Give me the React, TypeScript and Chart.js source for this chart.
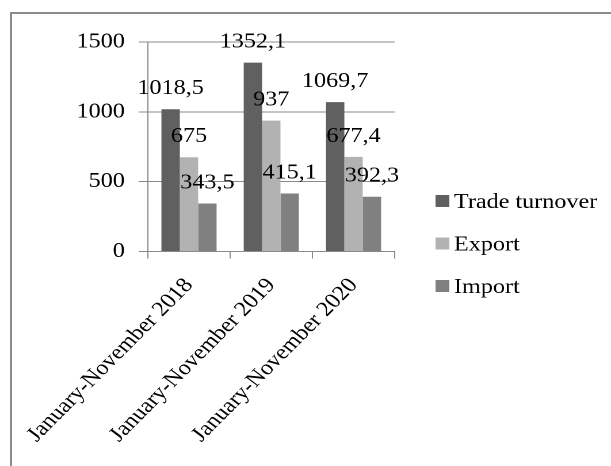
import React, { useEffect, useRef } from "react";
import { Chart, registerables } from "chart.js";

Chart.register(...registerables);

// ---- data ----
const categories = ["January-November 2018", "January-November 2019", "January-November 2020"];
const seriesNames = ["Trade turnover", "Export", "Import"];
const tradeTurnover = [1018.5, 1352.1, 1069.7];
const exportValues = [675, 937, 677.4];
const importValues = [343.5, 415.1, 392.3];
const yTicks = [0, 500, 1000, 1500];

// ---- styling ----
const PAGE_W = 611;
const PAGE_H = 466;
const LOCAL_W = 531;
const STRETCH = PAGE_W / LOCAL_W;
const FONT = '"Liberation Serif", "Times New Roman", serif';
const seriesColors = ["#606060", "#b2b2b2", "#808080"];
const lineColor = "#8a8a8a";

const fmt = (v: number) => String(v).replace(".", ",");

const valueLabels = {
  id: "valueLabels",
  afterDatasetsDraw(chart: any) {
    const ctx = chart.ctx;
    ctx.save();
    ctx.font = `21px ${FONT}`;
    ctx.fillStyle = "#000";
    ctx.textAlign = "center";
    ctx.textBaseline = "alphabetic";
    chart.data.datasets.forEach((ds: any, i: number) => {
      const meta = chart.getDatasetMeta(i);
      meta.data.forEach((bar: any, j: number) => {
        ctx.fillText(fmt(ds.data[j]), bar.x, bar.y - 15);
      });
    });
    ctx.restore();
  },
};

const sideLegend = {
  id: "sideLegend",
  afterDraw(chart: any) {
    const { ctx, chartArea } = chart;
    const boxX = chartArea.right + 35.5;
    const firstY = chartArea.top + 159;
    const gap = 42.5;
    ctx.save();
    ctx.font = `21px ${FONT}`;
    ctx.textAlign = "left";
    ctx.textBaseline = "alphabetic";
    chart.data.datasets.forEach((ds: any, i: number) => {
      const cy = firstY + i * gap;
      ctx.fillStyle = ds.backgroundColor;
      ctx.fillRect(boxX, cy - 6, 12, 12);
      ctx.fillStyle = "#000";
      ctx.fillText(ds.label, boxX + 16, cy + 7);
    });
    ctx.restore();
  },
};

export default function App() {
  const canvasRef = useRef<HTMLCanvasElement | null>(null);

  useEffect(() => {
    if (!canvasRef.current) return;
    const chart = new Chart(canvasRef.current, {
      type: "bar",
      data: {
        labels: categories,
        datasets: [
          { label: seriesNames[0], data: tradeTurnover, backgroundColor: seriesColors[0] },
          { label: seriesNames[1], data: exportValues, backgroundColor: seriesColors[1] },
          { label: seriesNames[2], data: importValues, backgroundColor: seriesColors[2] },
        ],
      },
      options: {
        animation: false,
        responsive: false,
        devicePixelRatio: 2,
        categoryPercentage: 0.67,
        barPercentage: 1,
        layout: { padding: { left: 54.5, top: 42, right: 188, bottom: 5 } },
        plugins: {
          legend: { display: false },
          tooltip: { enabled: false },
          title: { display: false },
        },
        scales: {
          x: {
            afterFit: (scale: any) => {
              scale.paddingLeft = 0;
              scale.paddingRight = 0;
            },
            grid: {
              drawOnChartArea: false,
              drawTicks: true,
              tickLength: 7,
              color: lineColor,
              offset: true,
            },
            border: { display: true, color: lineColor },
            ticks: {
              color: "#000",
              font: { family: FONT, size: 21 },
              minRotation: 49,
              maxRotation: 49,
              padding: 15,
              autoSkip: false,
            },
          },
          y: {
            min: 0,
            max: 1500,
            afterBuildTicks: (axis: any) => {
              axis.ticks = yTicks.map((v) => ({ value: v }));
            },
            grid: { color: lineColor, tickLength: 8, drawTicks: true },
            border: { display: true, color: lineColor },
            ticks: {
              color: "#000",
              font: { family: FONT, size: 21 },
              padding: 12,
              callback: (v: any) => String(v),
            },
          },
        },
      },
      plugins: [valueLabels, sideLegend],
    });
    return () => chart.destroy();
  }, []);

  return (
    <div
      style={{
        position: "fixed",
        left: 0,
        top: 0,
        width: PAGE_W,
        height: PAGE_H,
        overflow: "hidden",
        background: "#fff",
      }}
    >
      <div
        style={{
          position: "absolute",
          left: 10,
          top: 12,
          width: 800,
          height: 800,
          border: "2px solid #8c8c8c",
          boxSizing: "border-box",
        }}
      />
      <div
        style={{
          position: "absolute",
          left: 0,
          top: 0,
          width: LOCAL_W,
          height: PAGE_H,
          transform: `scaleX(${STRETCH})`,
          transformOrigin: "0 0",
        }}
      >
        <canvas ref={canvasRef} width={LOCAL_W} height={PAGE_H} />
      </div>
    </div>
  );
}
